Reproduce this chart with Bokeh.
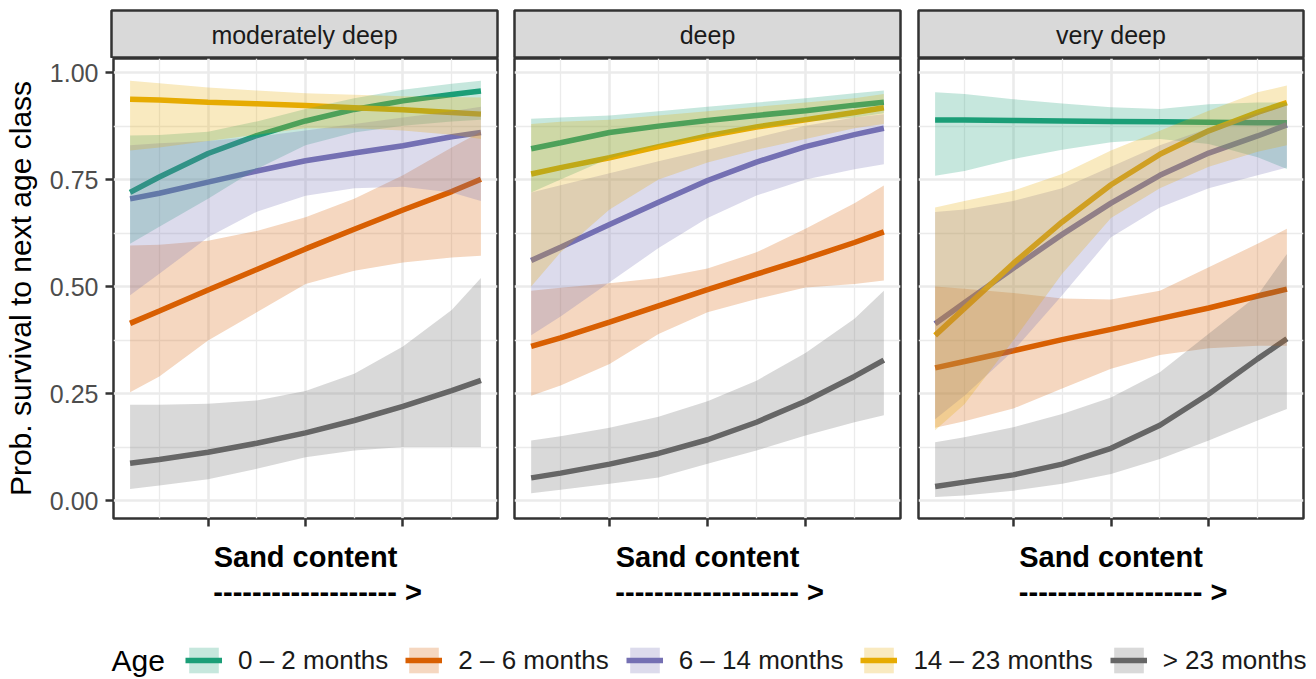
from bokeh.plotting import figure
from bokeh.models import (Range1d, LinearAxis, FixedTicker, Grid, NumeralTickFormatter,
                          Legend, LegendItem, Label)
from bokeh.layouts import row, column
from bokeh.core.properties import value
from bokeh.embed import file_html
from bokeh.resources import INLINE

# ---------------- data ----------------
depth_classes = ["moderately deep", "deep", "very deep"]
age_classes = ["0 – 2 months", "2 – 6 months", "6 – 14 months", "14 – 23 months", "> 23 months"]
x_sand = [4, 10, 20, 30, 40, 50, 60, 70, 76]
x_major = [20, 40, 60]
x_minor = [10, 30, 50, 70]
y_major = [0.0, 0.25, 0.5, 0.75, 1.0]
y_minor = [0.125, 0.375, 0.625, 0.875]
y_title = "Prob. survival to next age class"
x_title = "Sand content"
x_title_arrow = "\u00a0\u00a0\u00a0------------------- >"
legend_title = "Age"

# moderately deep: rows follow age_classes
md_fit = [
    [0.720, 0.756, 0.811, 0.853, 0.887, 0.914, 0.934, 0.949, 0.957],
    [0.414, 0.443, 0.492, 0.540, 0.588, 0.634, 0.679, 0.722, 0.751],
    [0.705, 0.718, 0.744, 0.770, 0.794, 0.812, 0.829, 0.850, 0.860],
    [0.938, 0.936, 0.931, 0.927, 0.923, 0.918, 0.913, 0.907, 0.903],
    [0.087, 0.096, 0.113, 0.134, 0.158, 0.187, 0.220, 0.257, 0.281],
]
md_lo = [
    [0.600, 0.640, 0.705, 0.775, 0.830, 0.860, 0.876, 0.886, 0.890],
    [0.253, 0.290, 0.374, 0.440, 0.506, 0.537, 0.556, 0.568, 0.572],
    [0.480, 0.530, 0.615, 0.675, 0.712, 0.730, 0.733, 0.720, 0.700],
    [0.818, 0.825, 0.840, 0.855, 0.870, 0.870, 0.865, 0.855, 0.845],
    [0.027, 0.035, 0.050, 0.074, 0.101, 0.117, 0.125, 0.125, 0.125],
]
md_hi = [
    [0.853, 0.854, 0.862, 0.886, 0.915, 0.940, 0.960, 0.974, 0.981],
    [0.596, 0.598, 0.607, 0.630, 0.662, 0.705, 0.760, 0.825, 0.862],
    [0.830, 0.835, 0.840, 0.850, 0.865, 0.880, 0.895, 0.910, 0.920],
    [0.981, 0.975, 0.965, 0.958, 0.952, 0.948, 0.945, 0.943, 0.942],
    [0.224, 0.224, 0.226, 0.234, 0.256, 0.296, 0.360, 0.445, 0.520],
]

# deep
dp_fit = [
    [0.822, 0.836, 0.860, 0.875, 0.888, 0.900, 0.911, 0.924, 0.931],
    [0.360, 0.380, 0.417, 0.455, 0.493, 0.529, 0.565, 0.603, 0.628],
    [0.561, 0.592, 0.645, 0.697, 0.748, 0.791, 0.827, 0.855, 0.870],
    [0.763, 0.778, 0.801, 0.827, 0.852, 0.873, 0.890, 0.907, 0.918],
    [0.053, 0.064, 0.085, 0.110, 0.142, 0.183, 0.232, 0.290, 0.328],
]
dp_lo = [
    [0.720, 0.750, 0.800, 0.830, 0.850, 0.870, 0.885, 0.895, 0.905],
    [0.245, 0.269, 0.319, 0.389, 0.440, 0.471, 0.498, 0.506, 0.514],
    [0.386, 0.430, 0.510, 0.590, 0.660, 0.713, 0.750, 0.774, 0.786],
    [0.500, 0.580, 0.680, 0.750, 0.790, 0.820, 0.845, 0.870, 0.880],
    [0.017, 0.025, 0.039, 0.054, 0.086, 0.117, 0.152, 0.183, 0.199],
]
dp_hi = [
    [0.892, 0.895, 0.900, 0.910, 0.920, 0.930, 0.940, 0.952, 0.958],
    [0.490, 0.497, 0.508, 0.520, 0.542, 0.580, 0.635, 0.695, 0.736],
    [0.720, 0.737, 0.765, 0.793, 0.820, 0.848, 0.876, 0.895, 0.903],
    [0.880, 0.885, 0.890, 0.900, 0.910, 0.920, 0.930, 0.940, 0.950],
    [0.140, 0.150, 0.170, 0.196, 0.232, 0.280, 0.345, 0.425, 0.490],
]

# very deep
vd_fit = [
    [0.889, 0.889, 0.888, 0.887, 0.886, 0.885, 0.884, 0.883, 0.883],
    [0.310, 0.325, 0.350, 0.376, 0.400, 0.425, 0.450, 0.478, 0.494],
    [0.413, 0.462, 0.543, 0.622, 0.695, 0.760, 0.812, 0.852, 0.878],
    [0.386, 0.449, 0.554, 0.651, 0.738, 0.809, 0.864, 0.907, 0.930],
    [0.033, 0.043, 0.060, 0.085, 0.122, 0.176, 0.249, 0.331, 0.378],
]
vd_lo = [
    [0.759, 0.770, 0.798, 0.820, 0.837, 0.845, 0.833, 0.802, 0.775],
    [0.170, 0.185, 0.215, 0.262, 0.308, 0.340, 0.356, 0.362, 0.362],
    [0.190, 0.245, 0.350, 0.480, 0.615, 0.685, 0.730, 0.760, 0.778],
    [0.164, 0.225, 0.374, 0.530, 0.660, 0.730, 0.780, 0.815, 0.830],
    [0.008, 0.012, 0.023, 0.039, 0.062, 0.097, 0.140, 0.187, 0.214],
]
vd_hi = [
    [0.954, 0.950, 0.938, 0.928, 0.919, 0.915, 0.926, 0.930, 0.930],
    [0.500, 0.495, 0.485, 0.472, 0.470, 0.490, 0.545, 0.600, 0.635],
    [0.674, 0.680, 0.700, 0.730, 0.780, 0.830, 0.870, 0.905, 0.925],
    [0.685, 0.700, 0.724, 0.763, 0.818, 0.864, 0.911, 0.954, 0.970],
    [0.136, 0.148, 0.171, 0.202, 0.241, 0.300, 0.390, 0.480, 0.576],
]

# ---------------- style ----------------
FONT = "Liberation Sans"
colors = ["#1B9E77", "#D95F02", "#7570B3", "#E6AB02", "#666666"]
DARK = "#333333"
GRID = "#EBEBEB"
X_RANGE = (0.6, 79.4)
Y_RANGE = (-0.042, 1.033)

fits = [md_fit, dp_fit, vd_fit]
los = [md_lo, dp_lo, vd_lo]
his = [md_hi, dp_hi, vd_hi]

widths = [505, 404, 397]
lefts = [111, 9, 9]
rights = [8, 9, 3]


def base_fig(width, height, xr, yr, left, right, top, bottom):
    p = figure(width=width, height=height, x_range=Range1d(*xr), y_range=Range1d(*yr),
               output_backend="svg", toolbar_location=None, tools="", title=None,
               x_axis_location=None, y_axis_location=None,
               min_border_left=left, min_border_right=right,
               min_border_top=top, min_border_bottom=bottom)
    p.center = []
    p.background_fill_color = "white"
    p.border_fill_color = "white"
    p.outline_line_color = None
    return p


def strip_fig(i):
    s = base_fig(widths[i], 58, X_RANGE, (0, 1), lefts[i], rights[i], 10, 0)
    s.background_fill_color = "#D9D9D9"
    s.outline_line_color = DARK
    s.outline_line_width = 2.5
    s.text(x=[(X_RANGE[0] + X_RANGE[1]) / 2], y=[0.5], text=[depth_classes[i]],
           text_align="center", text_baseline="middle",
           text_font=value(FONT), text_font_size="25px", text_color="#1A1A1A")
    return s


def panel_fig(i):
    p = base_fig(widths[i], 560, X_RANGE, Y_RANGE, lefts[i], rights[i], 0, 100)
    p.outline_line_color = DARK
    p.outline_line_width = 2.5
    p.add_layout(Grid(dimension=0, ticker=FixedTicker(ticks=x_major, minor_ticks=x_minor),
                      grid_line_color=GRID, grid_line_width=2.6,
                      minor_grid_line_color=GRID, minor_grid_line_width=1.3), "center")
    p.add_layout(Grid(dimension=1, ticker=FixedTicker(ticks=y_major, minor_ticks=y_minor),
                      grid_line_color=GRID, grid_line_width=2.6,
                      minor_grid_line_color=GRID, minor_grid_line_width=1.3), "center")
    for k in range(5):
        p.line(x_sand, fits[i][k], line_color=colors[k], line_width=5.5)
    for k in range(5):
        p.varea(x=x_sand, y1=los[i][k], y2=his[i][k], fill_color=colors[k], fill_alpha=0.25)

    xax = LinearAxis(ticker=FixedTicker(ticks=x_major, minor_ticks=[]),
                     major_label_overrides={t: "" for t in x_major},
                     major_label_text_font_size="1px", major_label_standoff=0,
                     axis_line_color=None, major_tick_line_color=DARK, major_tick_line_width=2.5,
                     major_tick_out=8, major_tick_in=0, minor_tick_line_color=None,
                     axis_label=x_title, axis_label_standoff=14,
                     axis_label_text_font=FONT, axis_label_text_font_size="29px",
                     axis_label_text_font_style="bold", axis_label_text_color="black")
    p.add_layout(xax, "below")
    xax2 = LinearAxis(ticker=FixedTicker(ticks=[], minor_ticks=[]),
                      major_label_text_font_size="1px", major_label_standoff=0,
                      axis_line_color=None, major_tick_line_color=None, minor_tick_line_color=None,
                      major_tick_out=0, major_tick_in=0,
                      axis_label=x_title_arrow, axis_label_standoff=0,
                      axis_label_text_font=FONT, axis_label_text_font_size="29px",
                      axis_label_text_font_style="bold", axis_label_text_color="black")
    p.add_layout(xax2, "below")

    if i == 0:
        yax = LinearAxis(ticker=FixedTicker(ticks=y_major, minor_ticks=[]),
                         formatter=NumeralTickFormatter(format="0.00"),
                         axis_line_color=None, major_tick_line_color=DARK, major_tick_line_width=2.5,
                         major_tick_out=8, major_tick_in=0, minor_tick_line_color=None,
                         major_label_text_font=FONT, major_label_text_font_size="25px",
                         major_label_text_color="#4D4D4D", major_label_standoff=7,
                         axis_label=y_title, axis_label_standoff=10,
                         axis_label_text_font=FONT, axis_label_text_font_size="30px",
                         axis_label_text_font_style="normal", axis_label_text_color="black")
        p.add_layout(yax, "left")
    return p


strips = [strip_fig(i) for i in range(3)]
panels = [panel_fig(i) for i in range(3)]

# legend figure (ranges placed away from data so only the legend is visible)
lf = base_fig(1306, 59, (-10, -9), (-10, -9), 0, 0, 0, 0)
items = []
for k in range(5):
    lr = lf.line(x_sand, md_fit[k], line_color=colors[k], line_width=5.5)
    br = lf.varea(x=x_sand, y1=md_lo[k], y2=md_hi[k], fill_color=colors[k], fill_alpha=0.25)
    items.append(LegendItem(label=age_classes[k], renderers=[lr, br]))
leg = Legend(items=items, orientation="horizontal", location=(185, 1),
             glyph_width=37, glyph_height=32, label_standoff=16, spacing=17,
             padding=0, margin=0, label_text_font=FONT, label_text_font_size="26px",
             label_text_color="#1A1A1A", border_line_color=None, background_fill_alpha=0)
lf.add_layout(leg)
lf.add_layout(Label(x=111, y=17, x_units="screen", y_units="screen", text=legend_title,
                    text_font=FONT, text_font_size="30px", text_baseline="middle",
                    text_color="black"))

layout = column(row(*strips, spacing=0), row(*panels, spacing=0), lf, spacing=0)

open("out.html", "w").write(file_html(layout, INLINE))
